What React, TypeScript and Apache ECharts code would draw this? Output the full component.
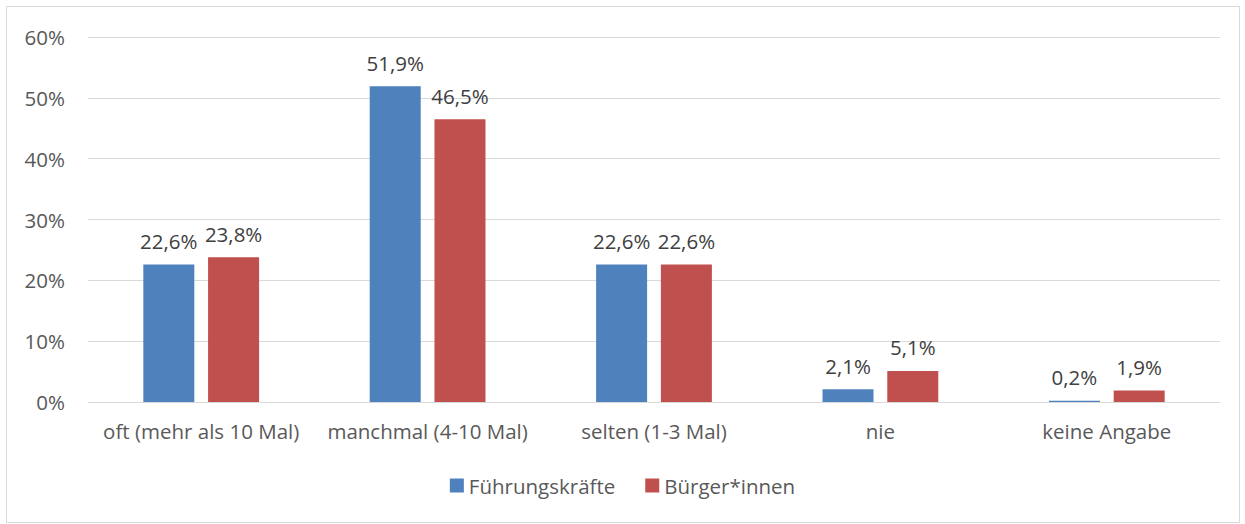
import React, { useEffect, useRef } from "react";
import * as echarts from "echarts";

const categories = ["oft (mehr als 10 Mal)", "manchmal (4-10 Mal)", "selten (1-3 Mal)", "nie", "keine Angabe"];
const fuehrungskraefte = [22.6, 51.9, 22.6, 2.1, 0.2];
const buerger = [23.8, 46.5, 22.6, 5.1, 1.9];
const seriesNames = ["Führungskräfte", "Bürger*innen"];

const FONT = "'Open Sans', 'Noto Sans', sans-serif";

export default function App() {
  const ref = useRef<HTMLDivElement>(null);
  useEffect(() => {
    const chart = echarts.init(ref.current!, undefined, { renderer: "svg" });
    const fmt = (p: any) => p.value.toFixed(1).replace(".", ",") + "%";
    chart.setOption({
      animation: false,
      backgroundColor: "#fff",
      textStyle: { fontFamily: FONT },
      graphic: [
        {
          type: "rect",
          shape: { x: 6.5, y: 6.5, width: 1233, height: 516 },
          style: { fill: "none", stroke: "#d9d9d9", lineWidth: 1 },
          silent: true,
        },
      ],
      grid: { left: 88, right: 25, top: 37, bottom: 122, containLabel: false },
      legend: {
        bottom: 23,
        left: "center",
        itemWidth: 14,
        itemHeight: 14,
        itemGap: 30,
        icon: "rect",
        textStyle: { fontSize: 20.5, color: "#595959", fontFamily: FONT },
        data: seriesNames,
      },
      xAxis: {
        type: "category",
        data: categories,
        axisLine: { lineStyle: { color: "#d9d9d9", width: 1 } },
        axisTick: { show: false },
        axisLabel: { fontSize: 20.5, color: "#595959", margin: 18, interval: 0, fontFamily: FONT },
      },
      yAxis: {
        type: "value",
        min: 0,
        max: 60,
        interval: 10,
        axisLine: { show: false },
        axisTick: { show: false },
        splitLine: { lineStyle: { color: "#d9d9d9", width: 1 } },
        axisLabel: { fontSize: 20.5, color: "#595959", margin: 23, formatter: "{value}%", fontFamily: FONT },
      },
      series: [
        {
          name: seriesNames[0],
          type: "bar",
          data: fuehrungskraefte,
          barWidth: 51,
          barGap: "27%",
          itemStyle: { color: "#4F81BD" },
          label: { show: true, position: "top", distance: 13, fontSize: 20.5, color: "#404040", formatter: fmt, fontFamily: FONT },
        },
        {
          name: seriesNames[1],
          type: "bar",
          data: buerger,
          barWidth: 51,
          itemStyle: { color: "#C0504D" },
          label: { show: true, position: "top", distance: 13, fontSize: 20.5, color: "#404040", formatter: fmt, fontFamily: FONT },
        },
      ],
    });
    return () => chart.dispose();
  }, []);
  return <div ref={ref} style={{ position: "fixed", left: 0, top: 0, width: 1245, height: 524 }} />;
}
